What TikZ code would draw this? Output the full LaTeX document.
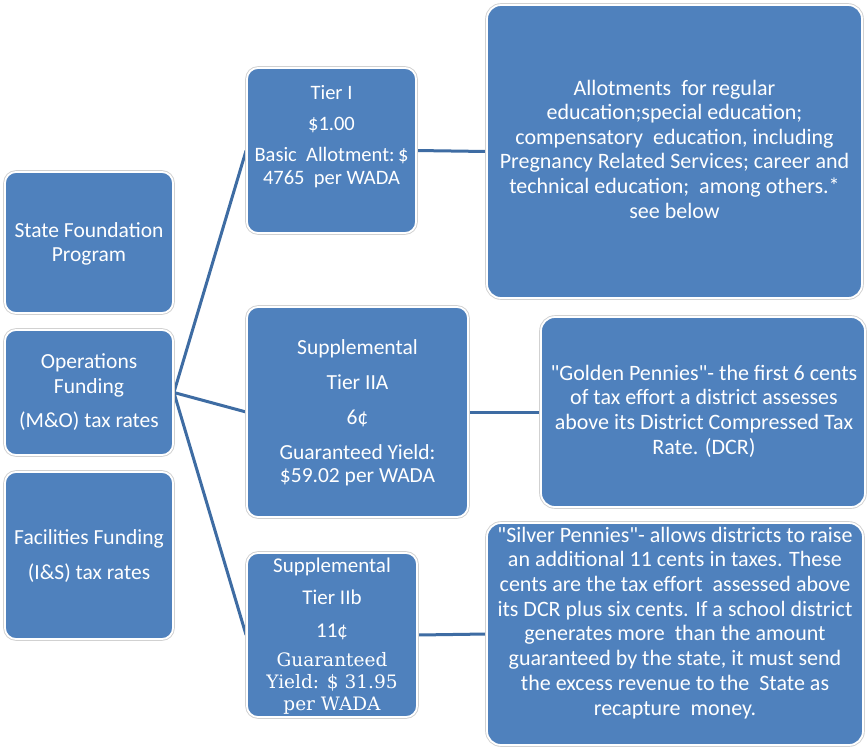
\documentclass[tikz,border=0pt]{standalone}
\usepackage{fontspec}
\newfontfamily\calib{Carlito}
\newfontfamily\slab{DejaVu Serif}
\definecolor{boxblue}{RGB}{79,129,189}
\definecolor{linkblue}{RGB}{62,108,163}
\pgfdeclarelayer{background}
\pgfsetlayers{background,main}
\begin{document}
\begin{tikzpicture}[x=1pt,y=-1pt,
  box/.style={rectangle, rounded corners=11pt, fill=boxblue, draw=white,
    line width=1.8pt, inner sep=0pt, preaction={draw=black!18, line width=3.6pt}},
  txt/.style={align=center, text=white, anchor=base, inner sep=0pt},
  link/.style={draw=linkblue, line width=3pt}]
\useasboundingbox (0,0) rectangle (867,748);

% left column
\node[box, minimum width=168pt, minimum height=141pt] (sfp) at (89,242.5) {};
\node[box, minimum width=168pt, minimum height=125pt] (ops) at (89,392.5) {};
\node[box, minimum width=168pt, minimum height=167pt] (fac) at (89,555.5) {};

% tiers
\node[box, minimum width=169pt, minimum height=165pt] (t1)  at (331.5,150.5) {};
\node[box, minimum width=221pt, minimum height=210pt] (t2a) at (357.5,412) {};
\node[box, minimum width=170pt, minimum height=164pt] (t2b) at (332,635) {};

% descriptions
\node[box, rounded corners=14pt, minimum width=375pt, minimum height=293pt] (r1) at (674.5,151.5) {};
\node[box, rounded corners=14pt, minimum width=324pt, minimum height=190pt] (r2) at (703,412) {};
\node[box, rounded corners=14pt, minimum width=376pt, minimum height=222pt] (r3) at (675,634) {};

% white page and connectors behind the boxes
\begin{pgfonlayer}{background}
\fill[white] (0,0) rectangle (867,748);
\draw[link] (ops.east) -- (t1.west);
\draw[link] (ops.east) -- (t2a.west);
\draw[link] (ops.east) -- (t2b.west);
\draw[link] (t1.east) -- (r1.west);
\draw[link] (t2a.east) -- (r2.west);
\draw[link] (t2b.east) -- (r3.west);
\end{pgfonlayer}

% texts (each placed at the baseline of its last line)
\node[txt, font=\calib\fontsize{21.5}{24}\selectfont] (sfp-t) at (89,261)
  {State Foundation\\Program};
\node[txt, font=\calib\fontsize{21.5}{25}\selectfont] (ops-t) at (89,427)
  {Operations\\Funding\\[8.5pt](M\&O) tax rates};
\node[txt, font=\calib\fontsize{21.5}{24}\selectfont] (fac-t) at (89,579)
  {Facilities Funding\\[11pt](I\&S) tax rates};

\node[txt, font=\calib\fontsize{20.5}{23}\selectfont] (t1-t) at (331.5,184)
  {Tier I\\[8pt]\$1.00\\[8pt]Basic\ \ Allotment:\,\$\\4765\ \ per WADA};
\node[txt, font=\calib\fontsize{21.5}{23}\selectfont] (t2a-t) at (357.5,482)
  {Supplemental\\[12pt]Tier IIA\\[12pt]6¢\\[12pt]Guaranteed Yield:\\\$59.02 per WADA};
\node[txt, font=\calib\fontsize{21}{23}\selectfont] (t2b-t) at (332,637)
  {Supplemental\\[9pt]Tier IIb\\[10pt]11¢};
\node[txt, font=\slab\fontsize{18.5}{22}\selectfont] (t2b-y) at (332,710)
  {Guaranteed\\Yield: \$ 31.95\\per WADA};

\node[txt, font=\calib\fontsize{22}{24.6}\selectfont] (r1-t) at (674.5,218)
  {Allotments\ \ for regular\\education;special education;\\compensatory\ \ education, including\\Pregnancy Related Services; career and\\technical education;\ \ among others.*\\see below};
\node[txt, font=\calib\fontsize{22}{24.6}\selectfont] (r2-t) at (704,454)
  {"Golden Pennies"- the first 6 cents\\of tax effort a district assesses\\above its District Compressed Tax\\Rate. (DCR)};
\node[txt, font=\calib\fontsize{22}{24.7}\selectfont] (r3-t) at (675,715)
  {"Silver Pennies"- allows districts to raise\\an additional 11 cents in taxes. These\\cents are the tax effort\ \ assessed above\\its DCR plus six cents. If a school district\\generates more\ \ than the amount\\guaranteed by the state, it must send\\the excess revenue to the\ \ State as\\recapture\ \ money.};
\end{tikzpicture}
\end{document}
